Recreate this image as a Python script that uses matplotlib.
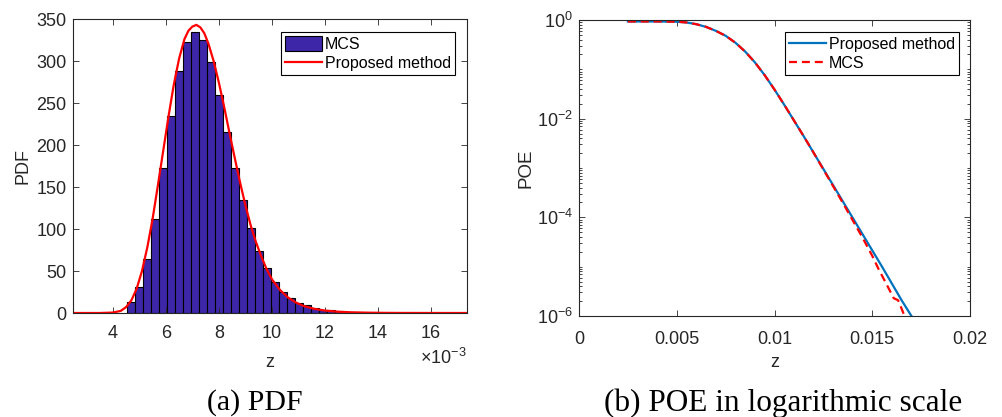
import numpy as np
import matplotlib
matplotlib.use("Agg")
from matplotlib import pyplot as plt
from matplotlib.ticker import FixedLocator, FuncFormatter, LogLocator, NullFormatter

# histogram of the MCS samples (z in units of 1e-3)
bin_lo = 4.53
bin_w = 0.302
mcs_counts = [13, 31, 64, 112, 173, 235, 288, 323, 335, 325, 299, 260, 216, 173,
              134, 101, 74, 53, 37, 25, 18, 12, 9, 6, 4, 3, 2, 1, 1]

# PDF from the proposed method (z in units of 1e-3)
pdf_z = [2.5, 3.5, 4.0, 4.3, 4.5, 4.7, 4.9, 5.1, 5.3, 5.5, 5.7, 5.9, 6.1, 6.3,
         6.5, 6.7, 6.85, 7.0, 7.15, 7.3, 7.45, 7.6, 7.8, 8.0, 8.2, 8.4, 8.6,
         8.8, 9.0, 9.2, 9.4, 9.6, 9.8, 10.0, 10.3, 10.6, 10.9, 11.2, 11.6,
         12.0, 12.5, 13.0, 13.6, 14.3, 15.0, 16.0, 17.4]
pdf_val = [0, 0, 0.5, 2.5, 7, 15, 29, 50, 78, 112, 152, 193, 234, 272,
           303, 326, 336, 341, 343, 340, 333, 321, 300, 274, 245, 214, 184,
           155, 128, 104, 84, 67, 52, 40, 27.5, 18.5, 12.5, 8.3, 4.9,
           2.9, 1.5, 0.8, 0.4, 0.15, 0.06, 0.02, 0]

# POE curves, log10 of probability of exceedance
poe_z = [0.0025, 0.004, 0.005, 0.0055, 0.006, 0.0065, 0.007, 0.0075, 0.008,
         0.0085, 0.009, 0.0095, 0.010, 0.0105, 0.011, 0.0115, 0.012, 0.0125,
         0.013, 0.0135, 0.014, 0.0145, 0.015, 0.0155, 0.016, 0.0165, 0.0171]
poe_log = [-0.03, -0.03, -0.035, -0.05, -0.085, -0.14, -0.22, -0.32, -0.46,
           -0.64, -0.86, -1.12, -1.41, -1.72, -2.04, -2.36, -2.69, -3.02,
           -3.35, -3.68, -4.01, -4.34, -4.67, -5.00, -5.34, -5.68, -6.06]

mcs_z = [0.0025, 0.004, 0.005, 0.0055, 0.006, 0.0065, 0.007, 0.0075, 0.008,
         0.0085, 0.009, 0.0095, 0.010, 0.0105, 0.011, 0.0115, 0.012, 0.0125,
         0.013, 0.0135, 0.014, 0.0145, 0.015, 0.0153, 0.0158, 0.0161,
         0.01632, 0.0165, 0.0167]
mcs_log = [-0.03, -0.03, -0.035, -0.05, -0.085, -0.14, -0.22, -0.32, -0.46,
           -0.64, -0.86, -1.12, -1.41, -1.72, -2.04, -2.36, -2.69, -3.03,
           -3.37, -3.71, -4.06, -4.41, -4.78, -5.03, -5.41, -5.64,
           -5.68, -5.85, -6.05]

plt.rcParams['font.family'] = ['Liberation Sans', 'DejaVu Sans']
plt.rcParams['mathtext.fontset'] = 'custom'
plt.rcParams['mathtext.rm'] = 'Liberation Sans'
ink = '#262626'

fig = plt.figure(figsize=(10.03, 4.17), dpi=100)
W, H = 1003, 417
ax1 = fig.add_axes([73 / W, (H - 313) / H, 394 / W, 294 / H])
ax2 = fig.add_axes([579 / W, (H - 316) / H, 391 / W, 296 / H])

# ---- (a) PDF ----
edges = (bin_lo + bin_w * np.arange(len(mcs_counts) + 1)) * 1e-3
bars = ax1.bar(edges[:-1], mcs_counts, width=np.diff(edges), align='edge',
               color='#3E26A8', edgecolor='black', linewidth=0.8, label='MCS')
line1, = ax1.plot(np.array(pdf_z) * 1e-3, pdf_val, color='red', lw=1.6,
                  label='Proposed method')
ax1.set_xlim(2.5e-3, 17.35e-3)
ax1.set_ylim(0, 350)
ax1.xaxis.set_major_locator(FixedLocator(np.arange(4, 17, 2) * 1e-3))
ax1.xaxis.set_major_formatter(FuncFormatter(lambda v, p: '%g' % round(v * 1e3, 6)))
ax1.set_yticks(np.arange(0, 351, 50))
ax1.set_ylabel('PDF', fontsize=13, color=ink)
ax1.yaxis.set_label_coords(-0.105, 0.5)
ax1.set_xlabel('z', fontsize=13, color=ink)
ax1.xaxis.set_label_coords(0.5, -0.14)
ax1.tick_params(axis='x', pad=9)
fig.text(467 / W, 1 - 348 / H, r'$\times\mathdefault{10^{-3}}$', ha='right',
         va='top', fontsize=13, color=ink)
leg1 = ax1.legend(handles=[bars, line1], loc='upper right',
                  bbox_to_anchor=(0.9695, 0.956), borderaxespad=0,
                  fontsize=11.5, handlelength=2.3, handleheight=1.1,
                  handletextpad=0.2, labelspacing=0.2, borderpad=0.25,
                  fancybox=False, framealpha=1, edgecolor='black')
leg1.get_frame().set_linewidth(0.8)

# ---- (b) POE ----
ax2.plot(poe_z, 10 ** np.array(poe_log), color='#0072BD', lw=1.6,
         label='Proposed method')
ax2.plot(mcs_z, 10 ** np.array(mcs_log), color='red', lw=1.6, ls='--',
         dashes=(3.6, 2.2), label='MCS')
ax2.set_yscale('log')
ax2.set_xlim(0, 0.02)
ax2.set_ylim(1e-6, 1)
ax2.set_xticks([0, 0.005, 0.01, 0.015, 0.02])
ax2.set_xticklabels(['0', '0.005', '0.01', '0.015', '0.02'])
ax2.yaxis.set_major_locator(FixedLocator([1e-6, 1e-4, 1e-2, 1]))
ax2.set_yticklabels([r'$\mathdefault{10^{-6}}$', r'$\mathdefault{10^{-4}}$',
                     r'$\mathdefault{10^{-2}}$', r'$\mathdefault{10^{0}}$'])
ax2.yaxis.set_minor_locator(LogLocator(base=10, subs=np.arange(1, 10), numticks=100))
ax2.yaxis.set_minor_formatter(NullFormatter())
ax2.set_ylabel('POE', fontsize=13.5, color=ink)
ax2.yaxis.set_label_coords(-0.115, 0.5)
ax2.set_xlabel('z', fontsize=13, color=ink)
ax2.xaxis.set_label_coords(0.5, -0.13)
ax2.tick_params(axis='x', pad=10.5)
leg2 = ax2.legend(loc='upper right', bbox_to_anchor=(0.9719, 0.9595),
                  borderaxespad=0, fontsize=11.5, handlelength=2.3,
                  handleheight=1.1, handletextpad=0.2, labelspacing=0.2,
                  borderpad=0.25, fancybox=False, framealpha=1,
                  edgecolor='black')
leg2.get_frame().set_linewidth(0.8)

for ax in (ax1, ax2):
    for s in ax.spines.values():
        s.set_linewidth(0.8)
        s.set_color(ink)
    ax.tick_params(which='both', direction='in', top=True, right=True,
                   labelsize=13, colors=ink, width=0.6)
    ax.tick_params(which='major', length=4)
    ax.tick_params(which='minor', length=2)
    ax.tick_params(axis='y', pad=4.5)

fig.text(255 / W, 1 - 403 / H, '(a) PDF', family='Liberation Serif',
         fontsize=21.5, ha='center', va='center', color='black')
fig.text(783 / W, 1 - 403 / H, '(b) POE in logarithmic scale',
         family='Liberation Serif', fontsize=22.5, ha='center', va='center',
         color='black')

fig.savefig('out.png', dpi=100)
